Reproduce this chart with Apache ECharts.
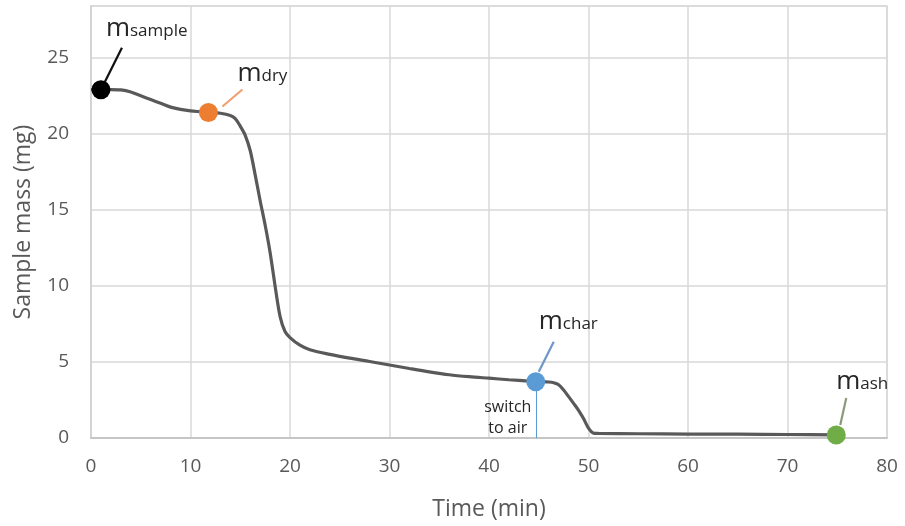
<!DOCTYPE html>
<html>
<head>
<meta charset="utf-8">
<title>Sample mass vs time</title>
<script src="https://cdn.jsdelivr.net/npm/echarts@6/dist/echarts.min.js"></script>
<style>
  html, body { margin: 0; padding: 0; background: #ffffff; }
  #chart { width: 905px; height: 526px; }
</style>
</head>
<body>
<div id="chart"></div>
<script>
// Thermogravimetric run: sample mass over time
const timeMin = [0, 1, 2, 3, 4, 5, 6, 7, 8, 9, 10, 11, 12, 13, 14, 14.5, 15, 15.5, 16, 16.5,
  17, 17.5, 18, 18.5, 19, 19.5, 20, 21, 22, 24, 26, 28, 30, 32, 34, 36, 38, 40, 42, 44,
  45, 46, 46.5, 47, 47.5, 48, 48.5, 49, 49.5, 50, 50.5, 51, 55, 60, 65, 70, 74.9];
const massMg = [22.9, 22.9, 22.9, 22.88, 22.75, 22.5, 22.25, 22.0, 21.75, 21.6, 21.5, 21.45, 21.4, 21.35, 21.2, 21.0, 20.5, 19.9, 18.9, 17.3,
  15.6, 14.0, 12.2, 10.0, 8.0, 7.0, 6.6, 6.1, 5.8, 5.5, 5.25, 5.03, 4.8, 4.57, 4.35, 4.16, 4.03, 3.93, 3.83, 3.74,
  3.71, 3.68, 3.63, 3.5, 3.15, 2.72, 2.28, 1.82, 1.28, 0.65, 0.32, 0.3, 0.28, 0.26, 0.25, 0.23, 0.2];

// Characteristic masses picked off the curve
const keyNames = ['sample', 'dry', 'char', 'ash'];
const keyTimes = [1.0, 11.8, 44.7, 74.9];
const keyMass = [22.9, 21.4, 3.7, 0.2];

// Gas switch marker
const switchTime = keyTimes[2];
const switchText = 'switch\nto air';

const xTicks = { min: 0, max: 80, interval: 10 };
const yTicks = { min: 0, max: 28.4, interval: 5 };

const keyColors = ['#000000', '#ED7D31', '#5B9BD5', '#70AD47'];
const leaderColors = ['#111111', '#F0A070', '#6F98C8', '#8A9A78'];
// label anchor (left, bottom) and leader line ends, relative to each dot in px
const labelOffsets = [
  { dx: 5, dy: -48, l0: [4, -8], l1: [21, -42] },
  { dx: 29, dy: -26, l0: [14, -6], l1: [34, -23] },
  { dx: 3, dy: -47, l0: [3, -10], l1: [18, -40] },
  { dx: 0, dy: -40, l0: [4, -10], l1: [10, -37] }
];

const FONT = '"Open Sans", "Noto Sans", sans-serif';
const chart = echarts.init(document.getElementById('chart'), null, { renderer: 'canvas' });

const option = {
  animation: false,
  backgroundColor: '#ffffff',
  grid: {
    left: 91, right: 18, top: 6, bottom: 88,
    show: true, borderColor: '#d9d9d9', borderWidth: 1.5
  },
  xAxis: {
    type: 'value',
    min: xTicks.min, max: xTicks.max, interval: xTicks.interval,
    name: 'Time (min)',
    nameLocation: 'middle',
    nameGap: 60,
    nameTextStyle: { fontFamily: FONT, fontSize: 23, color: '#595959' },
    axisLine: { show: true, lineStyle: { color: '#bfbfbf', width: 1.5 } },
    axisTick: { show: false },
    axisLabel: { fontFamily: FONT, fontSize: 19, color: '#595959', margin: 19 },
    splitLine: { show: true, lineStyle: { color: '#d9d9d9', width: 1.5 } }
  },
  yAxis: {
    type: 'value',
    min: yTicks.min, max: yTicks.max, interval: yTicks.interval,
    name: 'Sample mass (mg)',
    nameLocation: 'middle',
    nameGap: 56,
    nameTextStyle: { fontFamily: FONT, fontSize: 23, color: '#595959' },
    axisLine: { show: true, lineStyle: { color: '#d0d0d0', width: 1.5 } },
    axisTick: { show: false },
    axisLabel: { fontFamily: FONT, fontSize: 19, color: '#595959', margin: 22, showMaxLabel: false },
    splitLine: { show: true, lineStyle: { color: '#d9d9d9', width: 1.5 } }
  },
  series: [
    {
      name: 'mass',
      type: 'line',
      data: timeMin.map((t, i) => [t, massMg[i]]),
      smooth: 0.3,
      showSymbol: false,
      lineStyle: { color: '#595959', width: 3.2 },
      z: 3,
      markLine: {
        silent: true,
        symbol: 'none',
        label: { show: false },
        lineStyle: { color: '#5B9BD5', width: 1, type: 'solid' },
        data: [[{ coord: [switchTime, keyMass[2]] }, { coord: [switchTime, 0] }]]
      }
    },
    {
      name: 'key',
      type: 'scatter',
      symbolSize: 19,
      z: 5,
      data: keyTimes.map((t, i) => ({
        value: [t, keyMass[i]],
        itemStyle: { color: keyColors[i], opacity: 1 }
      }))
    }
  ]
};

chart.setOption(option);

// Annotation labels and leader lines, positioned from each point's pixel location
function drawAnnotations() {
  const elements = [];
  keyNames.forEach((name, i) => {
    const p = chart.convertToPixel({ gridIndex: 0 }, [keyTimes[i], keyMass[i]]);
    const o = labelOffsets[i];
    elements.push({
      type: 'line',
      z: 4,
      silent: true,
      shape: { x1: p[0] + o.l0[0], y1: p[1] + o.l0[1], x2: p[0] + o.l1[0], y2: p[1] + o.l1[1] },
      style: { stroke: leaderColors[i], lineWidth: 2.2 }
    });
    elements.push({
      type: 'text',
      z: 6,
      silent: true,
      x: p[0] + o.dx,
      y: p[1] + o.dy,
      style: {
        text: '{m|m}{s|' + name + '}',
        verticalAlign: 'bottom',
        align: 'left',
        rich: {
          m: { fontFamily: FONT, fontSize: 26, fill: '#262626', lineHeight: 26, verticalAlign: 'bottom' },
          s: { fontFamily: FONT, fontSize: 17, fill: '#262626', lineHeight: 26, verticalAlign: 'bottom', padding: [0, 0, 2, 0] }
        }
      }
    });
  });
  const sp = chart.convertToPixel({ gridIndex: 0 }, [switchTime, keyMass[2]]);
  elements.push({
    type: 'text',
    z: 6,
    silent: true,
    x: sp[0] - 28,
    y: sp[1] + 15,
    style: {
      text: switchText,
      fontFamily: FONT,
      fontSize: 16,
      lineHeight: 21,
      fill: '#262626',
      align: 'center',
      verticalAlign: 'top'
    }
  });
  chart.setOption({ graphic: { elements: elements } });
}
drawAnnotations();
</script>
</body>
</html>
